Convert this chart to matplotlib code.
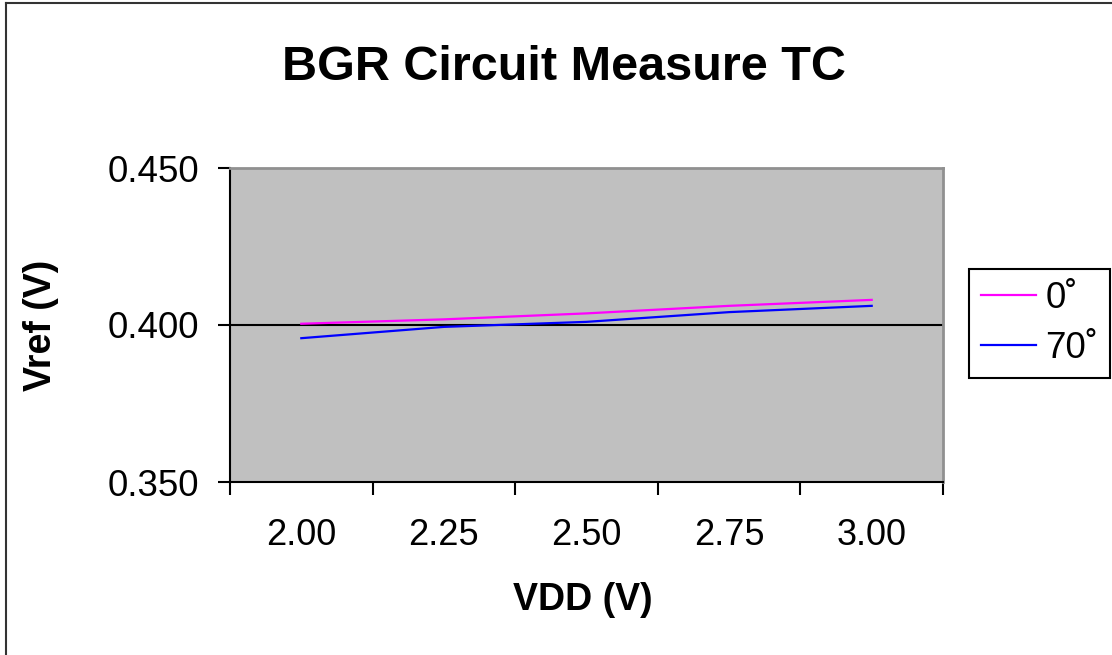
import matplotlib
matplotlib.use("Agg")
import matplotlib.pyplot as plt
from matplotlib.lines import Line2D

# ============================================================
# Data
# ============================================================
vdd_labels = ["2.00", "2.25", "2.50", "2.75", "3.00"]
vref_0deg = [0.4004, 0.4018, 0.4037, 0.4061, 0.4080]
vref_70deg = [0.3958, 0.3994, 0.4010, 0.4041, 0.4061]
series_names = ["0\u02da", "70\u02da"]

plt.rcParams['font.family'] = ['Liberation Sans', 'DejaVu Sans']

W, H = 1112, 655
fig = plt.figure(figsize=(W / 100, H / 100), dpi=100)
fig.patch.set_facecolor("white")

# plot area in pixels: x 230..943, y 168..482
ax = fig.add_axes([230 / W, 1 - 482 / H, (943 - 230) / W, (482 - 168) / H])
ax.set_facecolor("#c0c0c0")

x = list(range(len(vdd_labels)))
ax.axhline(0.400, color="black", lw=1.5, zorder=1)
ax.plot(x, vref_0deg, color="#ff00ff", lw=1.6, label=series_names[0], zorder=3)
ax.plot(x, vref_70deg, color="#0000ff", lw=1.6, label=series_names[1], zorder=3)

ax.set_xlim(-0.5, len(vdd_labels) - 0.5)
ax.set_ylim(0.350, 0.450)

# y axis
ax.set_yticks([0.350, 0.400, 0.450])
ax.set_yticklabels(["0.350", "0.400", "0.450"])
ax.tick_params(axis="y", direction="out", length=9, width=1.5, pad=13, labelsize=26.5)

# category axis: tick marks between categories, labels at category centers
ax.set_xticks([i - 0.5 for i in range(len(vdd_labels) + 1)])
ax.set_xticklabels([])
ax.set_xticks(x, minor=True)
ax.set_xticklabels(vdd_labels, minor=True)
ax.tick_params(axis="x", which="major", direction="out", length=9, width=1.5)
ax.tick_params(axis="x", which="minor", length=0, pad=26, labelsize=26)

for s in ["left", "bottom"]:
    ax.spines[s].set_color("black")
    ax.spines[s].set_linewidth(1.5)
for s in ["top", "right"]:
    ax.spines[s].set_color("#909090")
    ax.spines[s].set_linewidth(2)

ax.set_ylabel("Vref (V)", fontsize=27, fontweight="bold")
ax.yaxis.set_label_coords(-0.24, 0.5)
ax.set_xlabel("VDD (V)", fontsize=27, fontweight="bold")
ax.xaxis.set_label_coords(0.495, -0.32)

fig.text(564 / W, 1 - 80 / H, "BGR Circuit Measure TC", ha="center", va="baseline",
         fontsize=35, fontweight="bold")

leg = ax.legend(loc="center left", bbox_to_anchor=(969 / W, 1 - 323.5 / H),
                bbox_transform=fig.transFigure, fontsize=26.5, frameon=True,
                fancybox=False, edgecolor="black", framealpha=1,
                handlelength=1.5, handletextpad=0.25, labelspacing=0.42,
                borderpad=0.32, borderaxespad=0)
leg.get_frame().set_linewidth(1.5)

# outer chart border (left and top only visible)
fig.add_artist(Line2D([6 / W, 6 / W], [0, 1 - 3 / H], transform=fig.transFigure,
                      color="#333333", lw=1.5))
fig.add_artist(Line2D([6 / W, 1], [1 - 3 / H, 1 - 3 / H], transform=fig.transFigure,
                      color="#333333", lw=1.5))

fig.savefig("out.png", dpi=100)
